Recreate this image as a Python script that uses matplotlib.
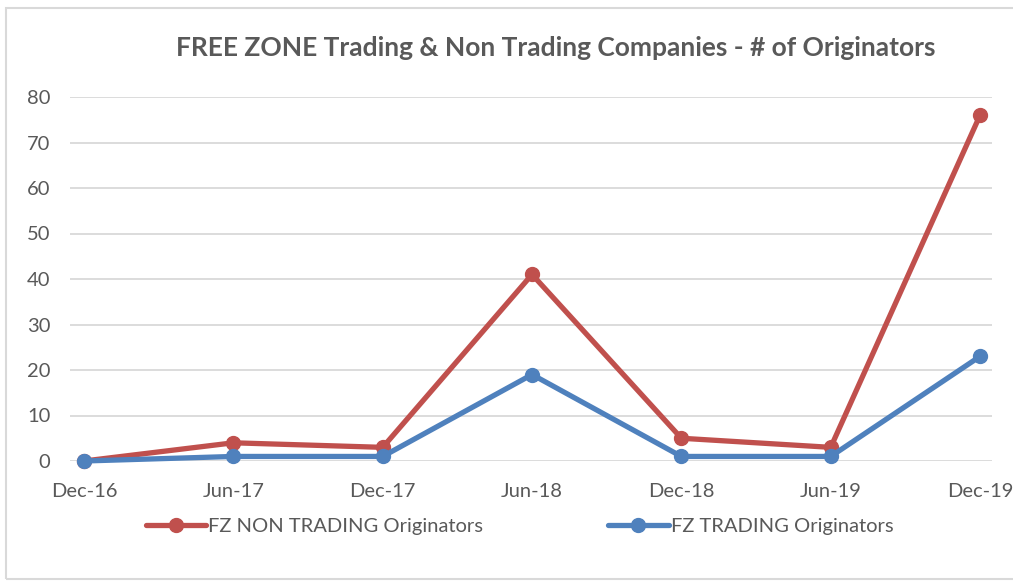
import matplotlib
matplotlib.use("Agg")
import matplotlib.pyplot as plt
from matplotlib.patches import Rectangle

categories = ["Dec-16", "Jun-17", "Dec-17", "Jun-18", "Dec-18", "Jun-19", "Dec-19"]
non_trading = [0, 4, 3, 41, 5, 3, 76]
trading = [0, 1, 1, 19, 1, 1, 23]
yticks = [0, 10, 20, 30, 40, 50, 60, 70, 80]

plt.rcParams['font.family'] = ['Lato', 'DejaVu Sans']
txt = '#595959'
red = '#C0504D'
blue = '#4F81BD'

fig = plt.figure(figsize=(10.13, 5.82), dpi=100)
fig.patches.append(Rectangle((6/1013, 3/582), 1.0, 1 - 11/582, transform=fig.transFigure,
                             fill=False, edgecolor='#D9D9D9', linewidth=1.5))
ax = fig.add_axes([70/1013, (582-461)/582, (992-70)/1013, (461-97)/582])
x = list(range(len(categories)))
ax.plot(x, non_trading, color=red, lw=3.8, marker='o', ms=10, clip_on=False, zorder=3,
        label='FZ NON TRADING Originators', solid_capstyle='round')
ax.plot(x, trading, color=blue, lw=3.8, marker='o', ms=10, clip_on=False, zorder=3,
        label='FZ TRADING Originators', solid_capstyle='round')
ax.set_ylim(0, 80)
ax.set_xlim(-0.094, 6.08)
ax.set_yticks(yticks)
ax.set_xticks(x)
ax.set_xticklabels(categories)
ax.grid(axis='y', color='#D9D9D9', lw=1.3)
ax.set_axisbelow(True)
for s in ax.spines.values():
    s.set_visible(False)
ax.tick_params(length=0, colors=txt, labelsize=14.5)
ax.tick_params(axis='x', pad=16)
ax.tick_params(axis='y', pad=14)
fig.text(0.549, 0.917, 'FREE ZONE Trading & Non Trading Companies - # of Originators',
         ha='center', va='center', fontsize=19, fontweight='bold', color=txt)
leg = fig.legend(loc='center', bbox_to_anchor=(0.513, 0.096), ncol=2, frameon=False,
                 fontsize=14.5, labelcolor=txt, columnspacing=6.2, handlelength=3.0,
                 handletextpad=0.1)
fig.savefig('out.png', dpi=100)
